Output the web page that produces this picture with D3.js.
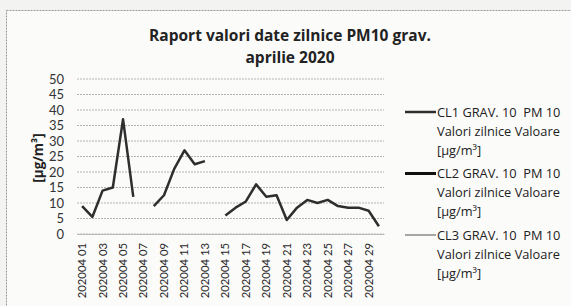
<!DOCTYPE html>
<html><head><meta charset="utf-8">
<script src="https://cdn.jsdelivr.net/npm/d3@7"></script>
<style>body{margin:0;background:#f3f3f1;}svg{display:block;}</style>
</head><body>
<svg id="chart" width="571" height="306"></svg>
<script>
const days = d3.range(1, 31).map(d => "202004 " + String(d).padStart(2, "0"));
const cl1 = [9, 5.5, 14, 15, 37, 12, null, 9, 12.5, 21, 27, 22.5, 23.5, null, 6, 8.5, 10.5, 16, 12, 12.5, 4.5, 8.5, 11, 10, 11, 9, 8.5, 8.5, 7.5, 2.5];
const cl2 = days.map(() => null);
const cl3 = days.map(() => null);
const yTicks = [0, 5, 10, 15, 20, 25, 30, 35, 40, 45, 50];
const xTickLabels = days.filter((d, i) => i % 2 === 0);
const seriesNames = ["CL1 GRAV. 10  PM 10", "CL2 GRAV. 10  PM 10", "CL3 GRAV. 10  PM 10"];
const titleLines = ["Raport valori date zilnice PM10 grav.", "aprilie 2020"];
const yTitle = "[µg/m³]";

const font = "Lato, 'Open Sans', sans-serif";
const wide = "'Open Sans', sans-serif";
const svg = d3.select("#chart");
svg.append("rect").attr("x", 6.5).attr("y", 10.5).attr("width", 580).attr("height", 310)
  .attr("fill", "#fbfbfa").attr("stroke", "#999").attr("stroke-dasharray", "2,1");

const x = d3.scaleBand().domain(days).range([77, 384]);
const y = d3.scaleLinear().domain([0, 50]).range([234, 79]);

// gridlines
svg.append("g").selectAll("line").data(yTicks).join("line")
  .attr("x1", 77).attr("x2", 384).attr("y1", d => y(d)).attr("y2", d => y(d))
  .attr("stroke", "#b5b5b5").attr("stroke-width", 1).attr("stroke-dasharray", "2,1");

// y axis
const yAxis = svg.append("g").attr("transform", "translate(77,0)")
  .call(d3.axisLeft(y).tickValues(yTicks).tickSize(0).tickPadding(13));
yAxis.select(".domain").remove();
yAxis.selectAll("text").attr("font-family", font).attr("font-size", 13).attr("fill", "#333");

// x axis
const xAxis = svg.append("g").attr("transform", "translate(0,234)")
  .call(d3.axisBottom(x).tickValues(xTickLabels).tickSize(0));
xAxis.select(".domain").attr("stroke", "#bbb");
xAxis.selectAll("text").attr("font-family", font).attr("font-size", 11.3).attr("fill", "#2a2a2a")
  .attr("transform", "rotate(-90)").attr("text-anchor", "end").attr("dx", "-9").attr("dy", "0.35em").attr("y", 0).attr("x", 0);

// line
const line = d3.line().defined(d => d.v !== null)
  .x(d => x(d.k) + x.bandwidth() / 2).y(d => y(d.v));
const styles = [{c: "#2e2e2e", w: 2.5}, {c: "#111", w: 3}, {c: "#8a8a8a", w: 1.5}];
[cl1, cl2, cl3].forEach((s, i) => {
  svg.append("path").datum(days.map((k, j) => ({k, v: s[j]})))
    .attr("d", line).attr("fill", "none").attr("stroke", styles[i].c)
    .attr("stroke-width", styles[i].w).attr("stroke-linejoin", "round");
});

// title
svg.append("text").attr("text-anchor", "middle")
  .attr("font-family", wide).attr("font-weight", "bold").attr("font-size", 15.5).attr("fill", "#222")
  .selectAll("tspan").data(titleLines).join("tspan")
  .attr("x", 290).attr("y", (d, i) => 41 + i * 21.5).text(d => d);

// y title
svg.append("text").attr("transform", "translate(43,158) rotate(-90)").attr("text-anchor", "middle")
  .attr("font-family", wide).attr("font-weight", "bold").attr("font-size", 13.5).attr("fill", "#222").text(yTitle);

// legend
const lg = svg.append("g");
seriesNames.forEach((n, i) => {
  const y0 = 112 + i * 61.5;
  lg.append("line").attr("x1", 405).attr("x2", 436).attr("y1", y0).attr("y2", y0)
    .attr("stroke", styles[i].c).attr("stroke-width", styles[i].w);
  const t = lg.append("text").attr("font-family", wide).attr("font-size", 12.8).attr("fill", "#222")
    .attr("xml:space", "preserve").style("white-space", "pre");
  [n, "Valori zilnice Valoare", "[µg/m³]"].forEach((s, j) => {
    t.append("tspan").attr("x", 437).attr("y", y0 + 4.5 + j * 19).text(s);
  });
});
</script>
</body></html>
